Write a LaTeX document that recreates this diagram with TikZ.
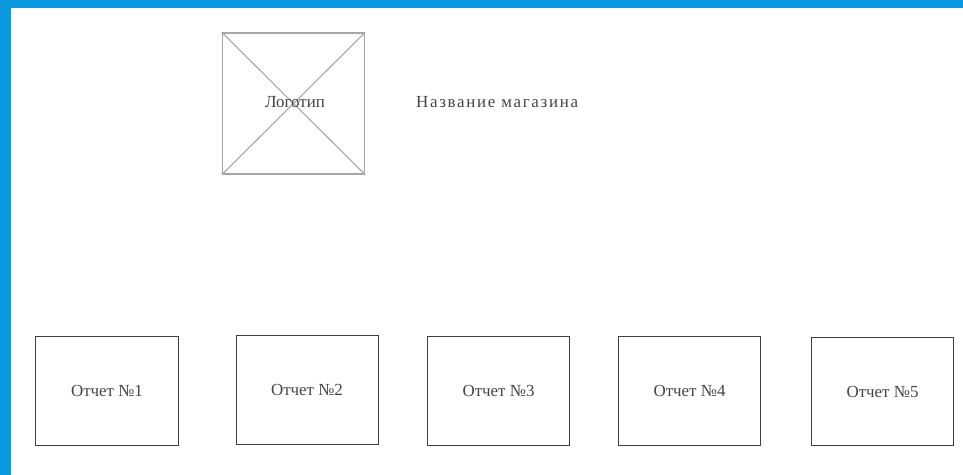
\documentclass[tikz,border=0pt]{standalone}
\usepackage{fontspec}
\setmainfont{Liberation Serif}
\newfontfamily\widefont[LetterSpace=10]{Liberation Serif}
\definecolor{framebl}{HTML}{0B9AE0}
\definecolor{txtc}{HTML}{444444}
\begin{document}
\begin{tikzpicture}[x=1bp,y=-1bp,
  report/.style={draw=black!75, line width=1bp, minimum width=142bp, minimum height=108bp, inner sep=0pt, text=txtc, font=\fontsize{17}{19}\selectfont},
  logobox/.style={draw=black!35, line width=1.3bp, minimum width=142bp, minimum height=141bp, inner sep=0pt},
  lbl/.style={text=txtc, font=\fontsize{17}{19}\selectfont, inner sep=0pt}]
\useasboundingbox (0,0) rectangle (963,475);
\fill[white] (0,0) rectangle (963,475);
\fill[framebl] (0,0) rectangle (963,8);
\fill[framebl] (0,0) rectangle (11,475);
\node[logobox] (logo) at (293.5,103.5) {};
\draw[black!35, line width=1.1bp] (logo.north west) -- (logo.south east);
\draw[black!35, line width=1.1bp] (logo.north east) -- (logo.south west);
\node[lbl] (logotxt) at (295,102) {Логотип};
\node[lbl, anchor=west, font=\widefont\fontsize{17}{19}\selectfont] (shop) at (416,102) {Название магазина};
\node[report] (r1) at (107,391) {Отчет №1};
\node[report] (r2) at (307,390) {Отчет №2};
\node[report] (r3) at (498.5,391) {Отчет №3};
\node[report] (r4) at (689.5,391) {Отчет №4};
\node[report] (r5) at (882.5,391.5) {Отчет №5};
\end{tikzpicture}
\end{document}
